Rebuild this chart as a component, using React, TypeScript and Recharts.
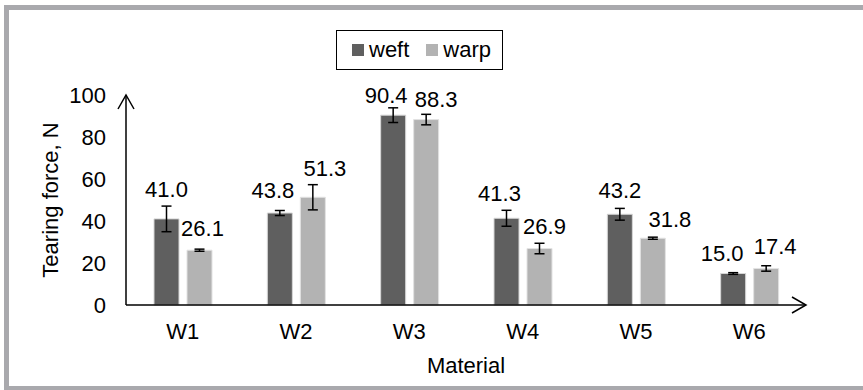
import { BarChart, Bar, XAxis, YAxis, ErrorBar, Legend, LabelList } from "recharts"

const materials = ["W1", "W2", "W3", "W4", "W5", "W6"]
const weft = [41.0, 43.8, 90.4, 41.3, 43.2, 15.0]
const warp = [26.1, 51.3, 88.3, 26.9, 31.8, 17.4]
const weftErr = [6.1, 1.2, 3.5, 3.8, 2.8, 0.4]
const warpErr = [0.5, 6.0, 2.5, 2.5, 0.5, 1.3]
const yTicks = [0, 20, 40, 60, 80, 100]

// hand-placed label nudges (dx, dy of label centre from bar top centre)
const weftNudge = [[0, -29], [-7, -23], [-7, -20], [-7, -25], [0, -24], [-11, -20]]
const warpNudge = [[3, -22], [12, -29], [10, -20], [5, -22], [17, -19], [9, -22]]

const FONT = "'Liberation Sans', Arial, sans-serif"
const WEFT_COLOR = "#5f5f5f"
const WARP_COLOR = "#b3b3b3"
const FRAME = "#a9a9ad"

const data = materials.map((name, i) => ({
  name,
  weft: weft[i],
  warp: warp[i],
  weftErr: weftErr[i],
  warpErr: warpErr[i],
}))

function makeLabel(nudge: number[][]) {
  return (props: any) => {
    const { x, y, width, value, index } = props
    const [dx, dy] = nudge[index] || [0, -20]
    return (
      <text
        x={x + width / 2 + dx}
        y={y + dy}
        textAnchor="middle"
        dominantBaseline="central"
        fontSize={22}
        fontFamily={FONT}
        fill="#000"
      >
        {Number(value).toFixed(1)}
      </text>
    )
  }
}

function LegendBox() {
  const item = (color: string, text: string, gap: number) => (
    <div style={{ display: "flex", alignItems: "center", marginRight: gap }}>
      <div style={{ width: 12, height: 12, background: color, marginRight: 5 }} />
      <span style={{ fontSize: 22, fontFamily: FONT, color: "#000", lineHeight: "22px" }}>{text}</span>
    </div>
  )
  return (
    <div
      style={{
        boxSizing: "border-box",
        width: 167,
        height: 40,
        border: "1.5px solid #000",
        background: "#fff",
        display: "flex",
        alignItems: "center",
        paddingLeft: 15,
      }}
    >
      {item(WEFT_COLOR, "weft", 17)}
      {item(WARP_COLOR, "warp", 0)}
    </div>
  )
}

export default function App() {
  return (
    <div style={{ position: "absolute", left: 0, top: 0, width: 863, height: 390, background: "#fff" }}>
      <div style={{ position: "absolute", left: 4, top: 5, width: 859, height: 5, background: FRAME }} />
      <div style={{ position: "absolute", left: 4, top: 5, width: 5, height: 385, background: FRAME }} />
      <div style={{ position: "absolute", left: 4, top: 386, width: 859, height: 4, background: FRAME }} />
      <BarChart
        width={863}
        height={390}
        data={data}
        margin={{ top: 95, right: 57, bottom: 15, left: 0 }}
        barSize={25}
        barGap={8}
        style={{ position: "absolute", left: 0, top: 0 }}
      >
        <defs>
          <marker
            id="arrowHead"
            viewBox="-16 -10 18 20"
            refX={0}
            refY={0}
            markerWidth={18}
            markerHeight={20}
            markerUnits="userSpaceOnUse"
            orient="auto-start-reverse"
          >
            <path d="M-14,-8 L0,0 L-14,8" fill="none" stroke="#000" strokeWidth={1.5} />
          </marker>
        </defs>
        <XAxis
          dataKey="name"
          height={70}
          axisLine={{ stroke: "#000", strokeWidth: 1.5, markerEnd: "url(#arrowHead)" }}
          tickLine={false}
          tickSize={0}
          tickMargin={18}
          tick={{ fill: "#000", fontSize: 22, fontFamily: FONT }}
          label={{ value: "Material", position: "insideBottom", offset: 2, fill: "#000", fontSize: 22, fontFamily: FONT }}
        />
        <YAxis
          width={126}
          domain={[0, 100]}
          ticks={yTicks}
          axisLine={{ stroke: "#000", strokeWidth: 1.5, markerStart: "url(#arrowHead)" }}
          tickLine={false}
          tickSize={0}
          tickMargin={20}
          tick={{ fill: "#000", fontSize: 22, fontFamily: FONT }}
          label={{ value: "Tearing force, N", angle: -90, position: "center", dx: -13, fill: "#000", fontSize: 22, fontFamily: FONT }}
        />
        <Legend
          layout="horizontal"
          verticalAlign="middle"
          align="center"
          content={() => <LegendBox />}
          wrapperStyle={{ left: 336, top: 30, width: 167, height: 40 }}
        />
        <Bar dataKey="weft" name="weft" fill={WEFT_COLOR} stroke="#d6d6d6" strokeWidth={1} isAnimationActive={false}>
          <ErrorBar dataKey="weftErr" width={5} stroke="#000" strokeWidth={1.5} direction="y" />
          <LabelList dataKey="weft" content={makeLabel(weftNudge)} />
        </Bar>
        <Bar dataKey="warp" name="warp" fill={WARP_COLOR} stroke="#e2e2e2" strokeWidth={1} isAnimationActive={false}>
          <ErrorBar dataKey="warpErr" width={5} stroke="#000" strokeWidth={1.5} direction="y" />
          <LabelList dataKey="warp" content={makeLabel(warpNudge)} />
        </Bar>
      </BarChart>
    </div>
  )
}
